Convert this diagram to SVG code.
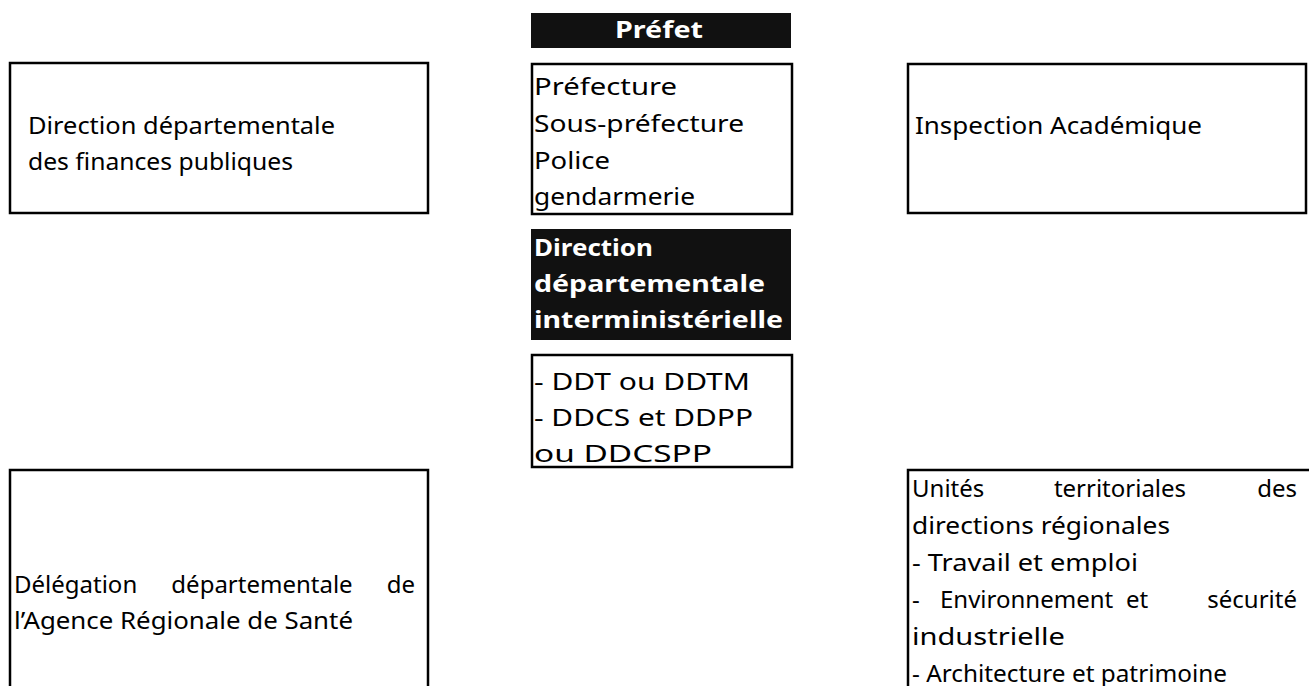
<svg xmlns="http://www.w3.org/2000/svg" width="1309" height="686" viewBox="0 0 1309 686">
<style>
.box{fill:#fff;stroke:#000;stroke-width:2.5}
.dark{fill:#111}
text{font-family:"Noto Sans","DejaVu Sans",sans-serif;font-size:24px;fill:#000}
.w{fill:#fff;font-weight:bold}
.e{text-anchor:end}
.m{text-anchor:middle}
</style>
<rect width="1309" height="686" fill="#fff"/>
<g id="prefet">
<rect class="dark" x="531" y="13" width="260" height="35"/>
<text class="w" x="615" y="38" textLength="88" lengthAdjust="spacingAndGlyphs">Préfet</text>
</g>
<g id="prefecture">
<rect class="box" x="532" y="64" width="260" height="150"/>
<text x="534" y="95" textLength="143" lengthAdjust="spacingAndGlyphs">Préfecture</text>
<text x="534" y="132" textLength="210" lengthAdjust="spacingAndGlyphs">Sous-préfecture</text>
<text x="534" y="169" textLength="76" lengthAdjust="spacingAndGlyphs">Police</text>
<text x="534" y="205" textLength="161" lengthAdjust="spacingAndGlyphs">gendarmerie</text>
</g>
<g id="ddi">
<rect class="dark" x="531" y="229" width="260" height="111"/>
<text class="w" x="534" y="256" textLength="119" lengthAdjust="spacingAndGlyphs">Direction</text>
<text class="w" x="534" y="292" textLength="231" lengthAdjust="spacingAndGlyphs">départementale</text>
<text class="w" x="534" y="328" textLength="249" lengthAdjust="spacingAndGlyphs">interministérielle</text>
</g>
<g id="ddt">
<rect class="box" x="532" y="355" width="260" height="112"/>
<text x="534" y="390" textLength="216" lengthAdjust="spacingAndGlyphs">- DDT ou DDTM</text>
<text x="534" y="426" textLength="219" lengthAdjust="spacingAndGlyphs">- DDCS et DDPP</text>
<text x="534" y="462" textLength="178" lengthAdjust="spacingAndGlyphs">ou DDCSPP</text>
</g>
<g id="dgfip">
<rect class="box" x="10" y="63" width="418" height="150"/>
<text x="28" y="134" textLength="307" lengthAdjust="spacingAndGlyphs">Direction départementale</text>
<text x="28" y="170" textLength="265" lengthAdjust="spacingAndGlyphs">des finances publiques</text>
</g>
<g id="inspection">
<rect class="box" x="908" y="64" width="398" height="149"/>
<text x="915" y="134" textLength="287" lengthAdjust="spacingAndGlyphs">Inspection Académique</text>
</g>
<g id="ars">
<rect class="box" x="10" y="470" width="418" height="240"/>
<text x="14" y="593">Délégation</text>
<text class="m" x="262" y="593">départementale</text>
<text class="e" x="415" y="593">de</text>
<text x="14" y="629" textLength="339" lengthAdjust="spacingAndGlyphs">l’Agence Régionale de Santé</text>
</g>
<g id="unites">
<rect class="box" x="908" y="470" width="420" height="240"/>
<text x="912" y="497">Unités</text>
<text class="m" x="1120" y="497">territoriales</text>
<text class="e" x="1297" y="497">des</text>
<text x="912" y="534" textLength="258" lengthAdjust="spacingAndGlyphs">directions régionales</text>
<text x="912" y="571" textLength="226" lengthAdjust="spacingAndGlyphs">- Travail et emploi</text>
<text x="912" y="608">-</text>
<text x="940" y="608">Environnement</text>
<text class="m" x="1137" y="608">et</text>
<text class="e" x="1297" y="608">sécurité</text>
<text x="912" y="645" textLength="153" lengthAdjust="spacingAndGlyphs">industrielle</text>
<text x="912" y="682" textLength="315" lengthAdjust="spacingAndGlyphs">- Architecture et patrimoine</text>
</g>
<g id="connectors"></g>
</svg>
